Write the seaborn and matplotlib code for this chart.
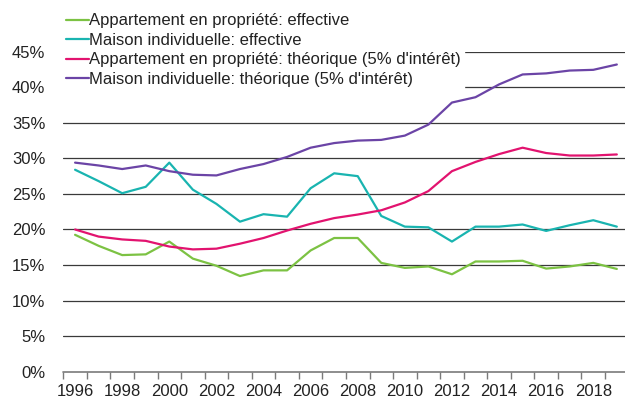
import matplotlib
matplotlib.use("Agg")
import matplotlib.pyplot as plt
import seaborn as sns
import pandas as pd
from matplotlib.ticker import FixedLocator, FuncFormatter

years = list(range(1996, 2020))
appart_eff = [19.25, 17.7, 16.4, 16.5, 18.3, 15.9, 14.9, 13.45, 14.25, 14.25, 17.05, 18.8,
              18.8, 15.3, 14.6, 14.8, 13.7, 15.5, 15.5, 15.6, 14.5, 14.8, 15.3, 14.45]
maison_eff = [28.4, 26.8, 25.1, 26.0, 29.4, 25.6, 23.6, 21.1, 22.15, 21.8, 25.8, 27.9,
              27.5, 21.9, 20.4, 20.3, 18.3, 20.4, 20.4, 20.7, 19.8, 20.6, 21.3, 20.4]
appart_theo = [20.0, 19.0, 18.6, 18.4, 17.6, 17.2, 17.3, 18.0, 18.8, 19.85, 20.8, 21.6,
               22.1, 22.7, 23.8, 25.4, 28.2, 29.5, 30.6, 31.5, 30.75, 30.4, 30.4, 30.55]
maison_theo = [29.4, 29.0, 28.5, 29.0, 28.2, 27.7, 27.6, 28.5, 29.2, 30.2, 31.5, 32.15,
               32.5, 32.6, 33.2, 34.75, 37.85, 38.6, 40.4, 41.8, 41.95, 42.35, 42.45, 43.2]
series_names = ["Appartement en propriété: effective",
                "Maison individuelle: effective",
                "Appartement en propriété: théorique (5% d'intérêt)",
                "Maison individuelle: théorique (5% d'intérêt)"]
colors = ["#7cc243", "#19b4b0", "#e2136f", "#6b44a6"]
y_ticks = [0, 5, 10, 15, 20, 25, 30, 35, 40, 45]
x_labels = list(range(1996, 2019, 2))

sns.set_theme(style="white")
plt.rcParams['font.family'] = ['Liberation Sans', 'DejaVu Sans']

df = pd.concat([
    pd.DataFrame({"year": years, "value": vals, "series": name})
    for name, vals in zip(series_names, [appart_eff, maison_eff, appart_theo, maison_theo])
])

fig = plt.figure(figsize=(6.25, 4.0), dpi=100)
ax = fig.add_axes([63.3 / 625, 28.3 / 400, 565.3 / 625, 320.0 / 400])

sns.lineplot(data=df, x="year", y="value", hue="series", hue_order=series_names,
             palette=colors, linewidth=1.6, ax=ax, legend=True)

ax.set_xlim(1995.5, 2019.5)
ax.set_ylim(0, 45)
for s in ax.spines.values():
    s.set_visible(False)
ax.set_axisbelow(True)
for t in y_ticks[1:]:
    ax.axhline(t, color="#3a3a3a", linewidth=0.9, zorder=0)
ax.axhline(0, color="#7a7a7a", linewidth=1.2, zorder=0, clip_on=False)

ax.yaxis.set_major_locator(FixedLocator(y_ticks))
ax.yaxis.set_major_formatter(FuncFormatter(lambda v, p: f"{int(v)}%"))
ax.tick_params(axis="y", length=0, pad=13, labelsize=12, labelcolor="#222222")

ax.xaxis.set_major_locator(FixedLocator(x_labels))
ax.xaxis.set_minor_locator(FixedLocator([y - 0.5 for y in years] + [2019.5]))
ax.tick_params(axis="x", which="major", length=0, pad=9, labelsize=12, labelcolor="#222222")
ax.tick_params(axis="x", which="minor", length=5, width=1.0, color="#7a7a7a", direction="out", bottom=True)
ax.set_xlabel("")
ax.set_ylabel("")

handles, labels = ax.get_legend_handles_labels()
leg = ax.legend(handles, labels, loc="upper left", bbox_to_anchor=(-0.001, 1.13),
                frameon=True, fancybox=False, edgecolor="white", facecolor="white",
                framealpha=1.0, fontsize=12, handlelength=1.35, handletextpad=0.05,
                labelspacing=0.27, borderpad=0.2, borderaxespad=0)
for line in leg.get_lines():
    line.set_linewidth(1.6)
for txt in leg.get_texts():
    txt.set_color("#222222")
leg.set_zorder(5)

fig.savefig("out.png", dpi=100)
